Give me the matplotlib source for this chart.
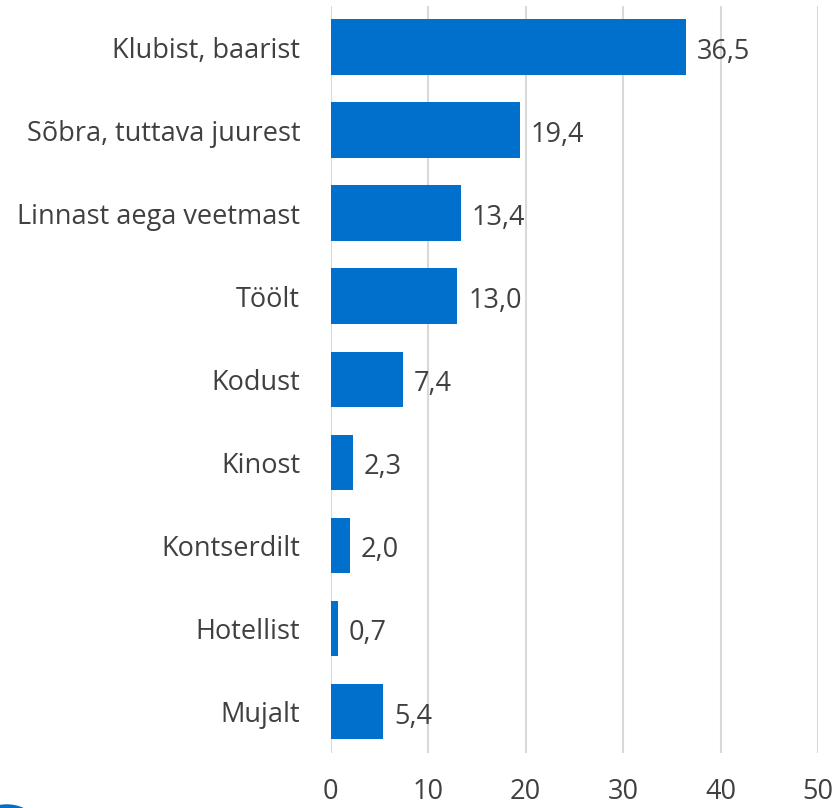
import matplotlib
matplotlib.use('Agg')
import matplotlib.pyplot as plt
import matplotlib.patches as mpatches

# data
categories = ['Klubist, baarist', 'Sõbra, tuttava juurest', 'Linnast aega veetmast',
              'Töölt', 'Kodust', 'Kinost', 'Kontserdilt', 'Hotellist', 'Mujalt']
values = [36.5, 19.4, 13.4, 13.0, 7.4, 2.3, 2.0, 0.7, 5.4]
x_ticks = [0, 10, 20, 30, 40, 50]

BAR_COLOR = '#0070CC'
TEXT_COLOR = '#404040'
GRID_COLOR = '#D9D9D9'

plt.rcParams['font.family'] = ['Open Sans', 'DejaVu Sans']

fig = plt.figure(figsize=(8.33, 8.08), dpi=100)
ax = fig.add_axes([0.397, 0.068, 0.585, 0.925])

ypos = list(range(len(categories)))
ax.barh(ypos, values, height=0.67, color=BAR_COLOR, zorder=3)

for y, v in zip(ypos, values):
    ax.text(v + 1.1, y + 0.06, f'{v:.1f}'.replace('.', ','), ha='left', va='center',
            fontsize=19.5, color=TEXT_COLOR)

ax.set_xlim(0, 50)
ax.set_ylim(len(categories) - 0.5, -0.5)
ax.set_xticks(x_ticks)
ax.set_xticklabels([str(t) for t in x_ticks])
ax.set_yticks(ypos)
ax.set_yticklabels(categories)
ax.tick_params(axis='both', length=0, labelsize=19.5, labelcolor=TEXT_COLOR)
ax.tick_params(axis='x', pad=18)
ax.tick_params(axis='y', pad=22)

ax.grid(axis='x', color=GRID_COLOR, linewidth=1.5, zorder=0)
for s in ax.spines.values():
    s.set_visible(False)

# cut-off logo edge in lower-left corner
fig.patches.append(mpatches.Ellipse((0.008, -0.013), 0.055, 0.03, transform=fig.transFigure,
                                    facecolor='none', edgecolor=BAR_COLOR, linewidth=3))

fig.savefig('out.png', dpi=100)
